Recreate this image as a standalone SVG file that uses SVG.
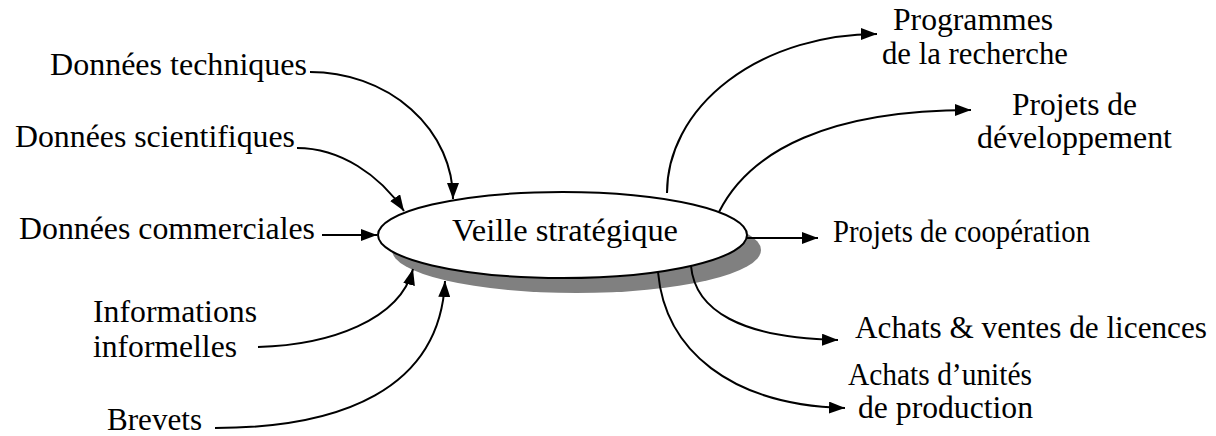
<svg xmlns="http://www.w3.org/2000/svg" width="1216" height="436" viewBox="0 0 1216 436">
  <style>
    text { font-family: "Liberation Serif", "Times New Roman", serif; font-size: 31px; fill: #000; }
    .link { fill: none; stroke: #000; stroke-width: 2; marker-end: url(#arrow); }
  </style>
  <defs>
    <marker id="arrow" viewBox="0 0 16 12" refX="16" refY="6" markerWidth="16" markerHeight="12" markerUnits="userSpaceOnUse" orient="auto">
      <path d="M0,0 L16,6 L0,12 z" fill="#000"/>
    </marker>
  </defs>
  <rect width="1216" height="436" fill="#fff"/>

  <!-- central node with drop shadow -->
  <g id="veille">
    <ellipse cx="576.5" cy="250" rx="184.5" ry="43" fill="#808080"/>
    <ellipse cx="562.5" cy="235" rx="184.5" ry="43" fill="#fff" stroke="#000" stroke-width="2"/>
    <text x="452" y="241" textLength="226" lengthAdjust="spacingAndGlyphs">Veille stratégique</text>
  </g>

  <!-- inputs -->
  <g id="donnees-techniques">
    <text x="50" y="75" textLength="257" lengthAdjust="spacingAndGlyphs">Données techniques</text>
  </g>
  <g id="donnees-scientifiques">
    <text x="15" y="147" textLength="280" lengthAdjust="spacingAndGlyphs">Données scientifiques</text>
  </g>
  <g id="donnees-commerciales">
    <text x="19" y="239" textLength="296" lengthAdjust="spacingAndGlyphs">Données commerciales</text>
  </g>
  <g id="informations-informelles">
    <text x="93" y="322" textLength="164" lengthAdjust="spacingAndGlyphs">Informations</text>
    <text x="93" y="357" textLength="144" lengthAdjust="spacingAndGlyphs">informelles</text>
  </g>
  <g id="brevets">
    <text x="107" y="430" textLength="95" lengthAdjust="spacingAndGlyphs">Brevets</text>
  </g>

  <!-- outputs -->
  <g id="programmes-recherche">
    <text x="893" y="30" textLength="160" lengthAdjust="spacingAndGlyphs">Programmes</text>
    <text x="882" y="64" textLength="186" lengthAdjust="spacingAndGlyphs">de la recherche</text>
  </g>
  <g id="projets-developpement">
    <text x="1012" y="115" textLength="125" lengthAdjust="spacingAndGlyphs">Projets de</text>
    <text x="977" y="148" textLength="195" lengthAdjust="spacingAndGlyphs">développement</text>
  </g>
  <g id="projets-cooperation">
    <text x="833" y="242" textLength="257" lengthAdjust="spacingAndGlyphs">Projets de coopération</text>
  </g>
  <g id="achats-ventes-licences">
    <text x="855" y="338" textLength="352" lengthAdjust="spacingAndGlyphs">Achats &amp; ventes de licences</text>
  </g>
  <g id="achats-unites-production">
    <text x="848" y="385" textLength="184" lengthAdjust="spacingAndGlyphs">Achats d’unités</text>
    <text x="858" y="418" textLength="175" lengthAdjust="spacingAndGlyphs">de production</text>
  </g>

  <!-- connectors -->
  <g id="connectors">
    <path class="link" d="M310,72 A143,127 0 0 1 453,199"/>
    <path class="link" d="M297,148 C340,148 380,175 404,211"/>
    <path class="link" d="M322,235 L377,235"/>
    <path class="link" d="M258,347 C330,345 400,320 413,269"/>
    <path class="link" d="M215,428 C340,428 440,390 445,281"/>

    <path class="link" d="M667,193 A210,159 0 0 1 877,34"/>
    <path class="link" d="M719,212 C750,150 830,110 971,110"/>
    <path class="link" d="M747,238 L818,238"/>
    <path class="link" d="M691,266 C695,310 740,338 838,340"/>
    <path class="link" d="M658,272 C665,350 730,405 845,408"/>
  </g>
</svg>
